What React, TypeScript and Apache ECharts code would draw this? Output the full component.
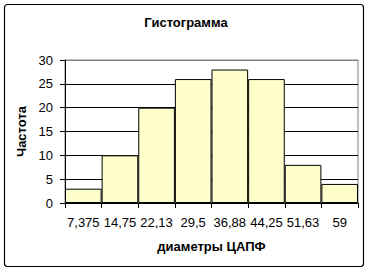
import React, { useEffect, useRef } from "react";
import * as echarts from "echarts";

const categories = ["7,375", "14,75", "22,13", "29,5", "36,88", "44,25", "51,63", "59"];
const frequencies = [3, 10, 20, 26, 28, 26, 8, 4];
const yTicks = { min: 0, max: 30, interval: 5 };

const FONT = "'Liberation Sans', Arial, sans-serif";

export default function App() {
  const ref = useRef<HTMLDivElement>(null);
  useEffect(() => {
    if (!ref.current) return;
    const chart = echarts.init(ref.current, undefined, { renderer: "svg" });
    chart.setOption({
      animation: false,
      backgroundColor: "#fff",
      textStyle: { fontFamily: FONT },
      title: {
        text: "Гистограмма",
        left: "center",
        top: 11,
        textStyle: { fontFamily: FONT, fontSize: 13, fontWeight: "bold", color: "#000" },
      },
      graphic: [
        {
          type: "rect",
          shape: { x: 4.5, y: 4.5, width: 359, height: 262, r: 3 },
          style: { fill: "none", stroke: "#000", lineWidth: 1.2 },
          silent: true,
          z: 100,
        },
      ],
      grid: {
        left: 65,
        right: 14,
        top: 60,
        bottom: 69,
        show: true,
        borderColor: "#808080",
        borderWidth: 1,
        backgroundColor: "transparent",
      },
      xAxis: {
        type: "category",
        data: categories,
        name: "диаметры ЦАПФ",
        nameLocation: "middle",
        nameGap: 37,
        nameTextStyle: { fontFamily: FONT, fontSize: 13, fontWeight: "bold", color: "#000" },
        axisLine: { show: true, lineStyle: { color: "#000", width: 1 } },
        axisTick: { show: true, length: 5, interval: 0, lineStyle: { color: "#000" } },
        axisLabel: {
          fontFamily: FONT,
          fontSize: 13,
          color: "#000",
          margin: 13,
          interval: 0,
          hideOverlap: false,
        },
        splitLine: { show: false },
      },
      yAxis: {
        type: "value",
        min: yTicks.min,
        max: yTicks.max,
        interval: yTicks.interval,
        name: "Частота",
        nameLocation: "middle",
        nameGap: 35,
        nameTextStyle: { fontFamily: FONT, fontSize: 13, fontWeight: "bold", color: "#000" },
        axisLine: { show: true, lineStyle: { color: "#000", width: 1 } },
        axisTick: { show: true, length: 5, lineStyle: { color: "#000" } },
        axisLabel: { fontFamily: FONT, fontSize: 13, color: "#000", margin: 12 },
        splitLine: {
          show: true,
          lineStyle: {
            color: ["#000", "#000", "#000", "#000", "#000", "#000", "#808080"],
            width: 1,
          },
        },
      },
      series: [
        {
          type: "bar",
          data: frequencies,
          barCategoryGap: "0%",
          itemStyle: { color: "#FFFFCC", borderColor: "#000", borderWidth: 1 },
        },
      ],
    });
    return () => chart.dispose();
  }, []);
  return (
    <div
      ref={ref}
      style={{ position: "fixed", left: 0, top: 0, width: 372, height: 272 }}
    />
  );
}
